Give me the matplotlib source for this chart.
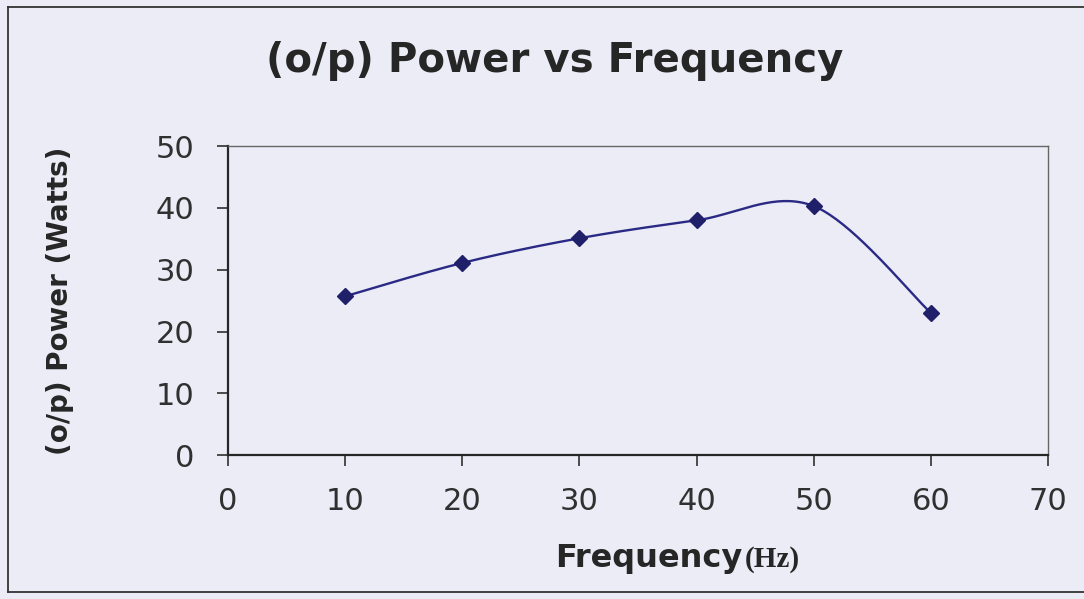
import numpy as np
import matplotlib.pyplot as plt
from matplotlib.lines import Line2D

freq = [10, 20, 30, 40, 50, 60]
power = [25.7, 31.1, 35.1, 38.0, 40.3, 23.0]
xticks = [0, 10, 20, 30, 40, 50, 60, 70]
yticks = [0, 10, 20, 30, 40, 50]

bg = '#ececf7'
navy = '#2a2a85'
ink = '#262626'


def smooth(xs, ys, n=40):
    # excel-style smoothed line: bezier segments with catmull-rom control points
    px = np.array(xs, float)
    py = np.array(ys, float)
    outx, outy = [], []
    for i in range(len(px) - 1):
        i0 = max(i - 1, 0)
        i3 = min(i + 2, len(px) - 1)
        c1x = px[i] + (px[i + 1] - px[i0]) / 6
        c1y = py[i] + (py[i + 1] - py[i0]) / 6
        c2x = px[i + 1] - (px[i3] - px[i]) / 6
        c2y = py[i + 1] - (py[i3] - py[i]) / 6
        t = np.linspace(0, 1, n)
        a, b, c, d = (1 - t) ** 3, 3 * (1 - t) ** 2 * t, 3 * (1 - t) * t ** 2, t ** 3
        outx.extend(a * px[i] + b * c1x + c * c2x + d * px[i + 1])
        outy.extend(a * py[i] + b * c1y + c * c2y + d * py[i + 1])
    return outx, outy


plt.rcParams['font.family'] = ['DejaVu Sans']

fig = plt.figure(figsize=(10.84, 5.99), dpi=100)
fig.patch.set_facecolor(bg)
ax = fig.add_axes([0.210, 0.240, 0.757, 0.516])
ax.set_facecolor(bg)

sx, sy = smooth(freq, power)
ax.plot(sx, sy, color=navy, lw=1.7)
ax.plot(freq, power, linestyle='none', marker='D', ms=8, color='#1f1f6a')

ax.set_xlim(0, 70)
ax.set_ylim(0, 50)
ax.set_xticks(xticks)
ax.set_yticks(yticks)
ax.tick_params(labelsize=22, colors='#303030', length=8, width=1.2)
ax.tick_params(axis='x', pad=15)
ax.tick_params(axis='y', pad=16)
for s in ['left', 'bottom']:
    ax.spines[s].set_linewidth(1.6)
    ax.spines[s].set_color(ink)
for s in ['top', 'right']:
    ax.spines[s].set_linewidth(1.0)
    ax.spines[s].set_color('#666666')

fig.text(60 / 1084, 0.5 * (0.240 + 0.756), '(o/p) Power (Watts)', rotation=90,
         ha='center', va='center', fontsize=20, fontweight='bold', color=ink)
fig.text(0.5115, 0.880, '(o/p) Power vs Frequency', ha='center', va='baseline',
         fontsize=29, fontweight='bold', color=ink)
fig.text(0.6845, 0.0534, 'Frequency', ha='right', va='baseline',
         fontsize=23, fontweight='bold', color=ink)
fig.text(0.687, 0.0534, '(Hz)', ha='left', va='baseline',
         fontsize=21, fontweight='bold', color=ink, family='Liberation Serif')

# outer frame of the chart object
frame_kw = dict(color='#333333', lw=1.3, transform=fig.transFigure)
fig.add_artist(Line2D([8 / 1084, 1.0], [1 - 7 / 599, 1 - 7 / 599], **frame_kw))
fig.add_artist(Line2D([8 / 1084, 8 / 1084], [1 - 7 / 599, 1 - 592 / 599], **frame_kw))
fig.add_artist(Line2D([8 / 1084, 1.0], [1 - 592 / 599, 1 - 592 / 599], **frame_kw))

fig.savefig('out.png', dpi=100, facecolor=bg)
